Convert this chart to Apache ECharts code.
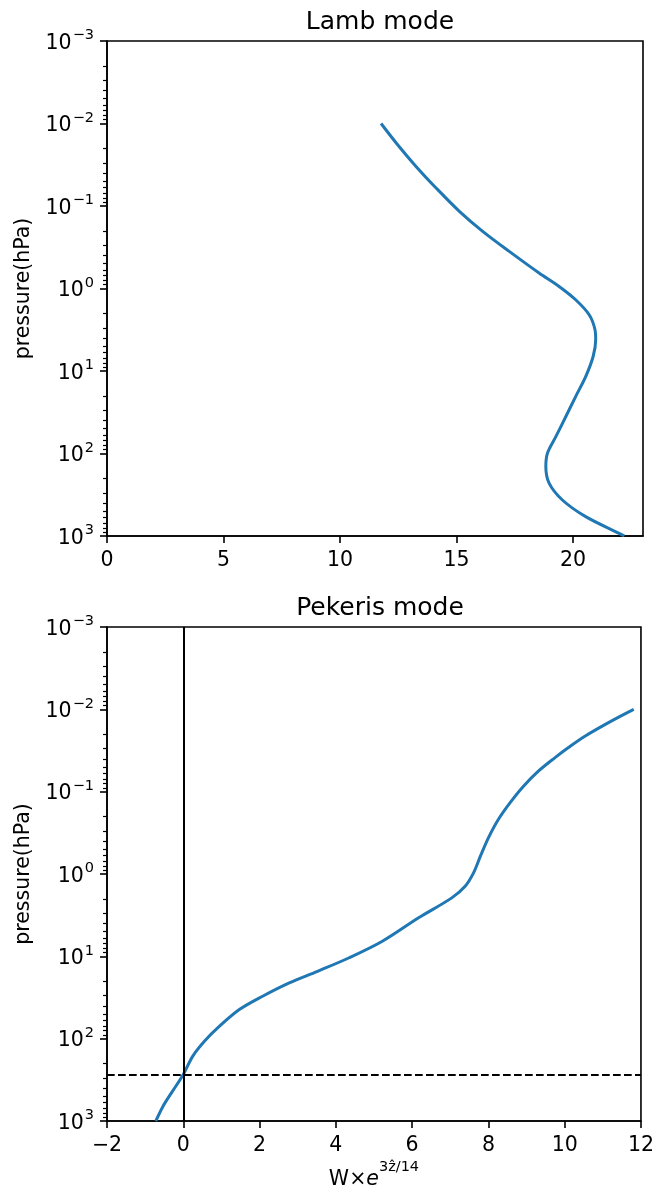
<!DOCTYPE html>
<html>
<head>
<meta charset="utf-8">
<script src="https://cdn.jsdelivr.net/npm/echarts@6/dist/echarts.min.js"></script>
<style>
  html, body { margin: 0; padding: 0; background: #fff; }
  #chart { width: 657px; height: 1193px; }
</style>
</head>
<body>
<div id="chart"></div>
<script>
  // Lamb mode profile (x value, pressure hPa)
  var lambW = [11.76, 12.41, 13.26, 14.12, 15.12, 16.12, 17.26, 18.54, 19.40, 20.11, 20.69, 20.94, 20.97, 20.86, 20.54, 20.11, 19.69, 19.26, 18.90, 18.83, 18.97, 19.54, 20.54, 21.97, 22.20];
  var lambP = [0.0100, 0.0172, 0.0331, 0.0604, 0.116, 0.203, 0.355, 0.649, 0.944, 1.37, 2.08, 3.16, 4.19, 6.67, 11.7, 20.4, 35.6, 62.4, 99.1, 144, 229, 366, 583, 927, 1000];

  // Pekeris mode profile
  var pekW = [-0.72, -0.53, -0.31, 0.00, 0.25, 0.56, 0.95, 1.47, 2.08, 2.78, 3.52, 4.35, 5.22, 6.17, 7.04, 7.39, 7.61, 7.79, 8.00, 8.26, 8.57, 8.92, 9.31, 9.74, 10.09, 10.53, 11.22, 11.81];
  var pekP = [1000, 661, 455, 272, 163, 107, 70.6, 44.3, 30.5, 21.0, 15.2, 10.4, 6.55, 3.40, 1.95, 1.41, 0.968, 0.608, 0.364, 0.218, 0.136, 0.0859, 0.0564, 0.0388, 0.0293, 0.0212, 0.0139, 0.0100];

  var pTicks = [0.001, 0.01, 0.1, 1, 10, 100, 1000];
  var lambXTicks = [0, 5, 10, 15, 20];
  var pekXTicks = [-2, 0, 2, 4, 6, 8, 10, 12];
  var zeroLineX = 0;
  var dashedLevel = 275;

  var minorTicks = [];
  pTicks.slice(0, -1).forEach(function (d) {
    for (var k = 2; k <= 9; k++) minorTicks.push(+(d * k).toPrecision(3));
  });

  var font = 'DejaVu Sans';
  var blue = '#1f77b4';
  var fs = 20.5;
  var sfs = 14.5;

  var chart = echarts.init(document.getElementById('chart'));

  function pLabel(v) {
    var e = Math.round(Math.log10(v));
    return '{b|10}{s|' + (e < 0 ? '\u2212' + (-e) : e) + '}';
  }
  var supRich = {
    b: { fontFamily: font, fontSize: fs, color: '#000', lineHeight: 26, verticalAlign: 'bottom' },
    s: { fontFamily: font, fontSize: sfs, color: '#000', lineHeight: 14, verticalAlign: 'top', padding: [0, 0, 0, 1] }
  };

  function yAxes(gridIndex) {
    return [{
      type: 'log', gridIndex: gridIndex, inverse: true, min: 0.001, max: 1000, logBase: 10, position: 'left',
      name: 'pressure(hPa)', nameLocation: 'middle', nameGap: 72,
      nameTextStyle: { fontFamily: font, fontSize: fs, color: '#000' },
      axisLine: { show: true, onZero: false, lineStyle: { color: '#000', width: 1.6 } },
      axisTick: { show: true, length: 7, lineStyle: { color: '#000', width: 1.6 }, customValues: pTicks },
      axisLabel: { margin: 13, customValues: pTicks, formatter: pLabel, rich: supRich },
      splitLine: { show: false }
    }, {
      type: 'log', gridIndex: gridIndex, inverse: true, min: 0.001, max: 1000, logBase: 10, position: 'left', offset: 0,
      axisLine: { show: false, onZero: false },
      axisTick: { show: true, length: 4, lineStyle: { color: '#000', width: 1.2 }, customValues: minorTicks },
      axisLabel: { show: false },
      splitLine: { show: false }
    }];
  }

  function xAxis(gridIndex, min, max, ticks) {
    return {
      type: 'value', gridIndex: gridIndex, min: min, max: max,
      axisLine: { show: true, onZero: false, lineStyle: { color: '#000', width: 1.6 } },
      axisTick: { show: true, length: 7, lineStyle: { color: '#000', width: 1.6 }, customValues: ticks },
      axisLabel: {
        margin: 14, customValues: ticks, fontFamily: font, fontSize: fs, color: '#000',
        formatter: function (v) { return String(v).replace('-', '\u2212'); }
      },
      splitLine: { show: false }
    };
  }

  var xa0 = xAxis(0, 0, 23, lambXTicks);
  var xa1 = xAxis(1, -2, 12, pekXTicks);
  xa1.name = '{n|W\u00d7}{e|e}{s|3\u1e91/14}';
  xa1.nameLocation = 'middle';
  xa1.nameGap = 39;
  xa1.nameTextStyle = {
    rich: {
      n: { fontFamily: font, fontSize: fs, color: '#000', lineHeight: 30, verticalAlign: 'bottom' },
      e: { fontFamily: font, fontSize: fs, fontStyle: 'italic', color: '#000', lineHeight: 30, verticalAlign: 'bottom' },
      s: { fontFamily: font, fontSize: sfs, color: '#000', lineHeight: 14, verticalAlign: 'top' }
    }
  };

  chart.setOption({
    animation: false,
    backgroundColor: '#fff',
    title: [
      { text: 'Lamb mode', left: 375, top: 5, textAlign: 'center',
        textStyle: { fontFamily: font, fontSize: 25, fontWeight: 'normal', color: '#000' } },
      { text: 'Pekeris mode', left: 375, top: 591, textAlign: 'center',
        textStyle: { fontFamily: font, fontSize: 25, fontWeight: 'normal', color: '#000' } }
    ],
    grid: [
      { left: 107, top: 41, width: 536, height: 495, show: true, borderColor: '#000', borderWidth: 1.6, backgroundColor: 'transparent' },
      { left: 107, top: 627, width: 536, height: 494, show: true, borderColor: '#000', borderWidth: 1.6, backgroundColor: 'transparent' }
    ],
    xAxis: [xa0, xa1],
    yAxis: yAxes(0).concat(yAxes(1)),
    series: [
      {
        type: 'line', xAxisIndex: 0, yAxisIndex: 0, showSymbol: false, smooth: 0.33,
        lineStyle: { color: blue, width: 3 },
        data: lambW.map(function (w, i) { return [w, lambP[i]]; })
      },
      {
        type: 'line', xAxisIndex: 1, yAxisIndex: 2, showSymbol: false, smooth: 0.33,
        lineStyle: { color: blue, width: 3 },
        data: pekW.map(function (w, i) { return [w, pekP[i]]; }),
        markLine: {
          silent: true, symbol: 'none', label: { show: false }, animation: false,
          data: [
            { xAxis: zeroLineX, lineStyle: { color: '#000', width: 2, type: 'solid' } },
            { yAxis: dashedLevel, lineStyle: { color: '#000', width: 2.1, type: [7.7, 3.3] } }
          ]
        }
      }
    ]
  });
</script>
</body>
</html>
